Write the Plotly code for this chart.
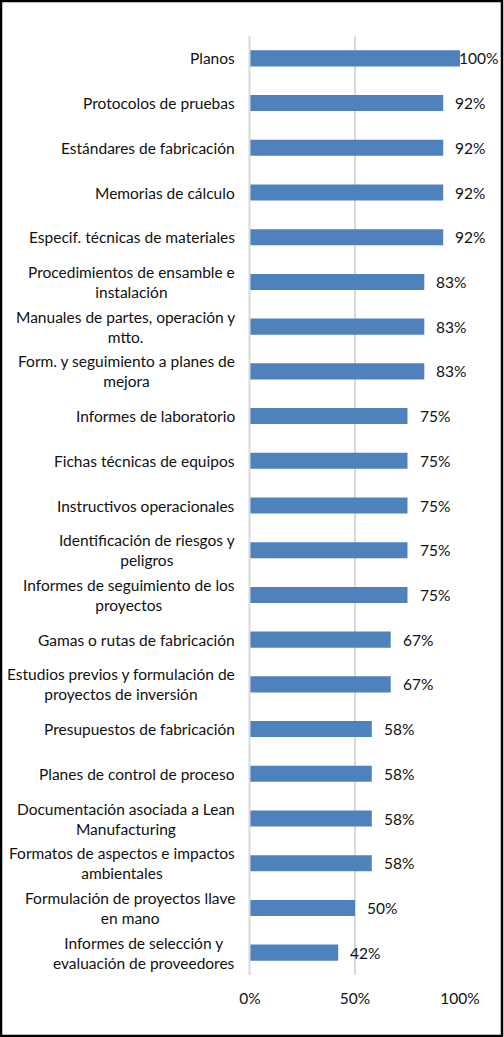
import plotly.graph_objects as go

categories = [
    "Planos",
    "Protocolos de pruebas",
    "Estándares de fabricación",
    "Memorias de cálculo",
    "Especif. técnicas de materiales",
    "Procedimientos de ensamble e<br>instalación",
    "Manuales de partes, operación y<br>mtto.",
    "Form. y seguimiento a planes de<br>mejora",
    "Informes de laboratorio",
    "Fichas técnicas de equipos",
    "Instructivos operacionales",
    "Identificación de riesgos y<br>peligros",
    "Informes de seguimiento de los<br>proyectos",
    "Gamas o rutas de fabricación",
    "Estudios previos y formulación de<br>proyectos de inversión",
    "Presupuestos de fabricación",
    "Planes de control de proceso",
    "Documentación asociada a Lean<br>Manufacturing",
    "Formatos de aspectos e impactos<br>ambientales",
    "Formulación de proyectos llave<br>en mano",
    "Informes de selección y<br>evaluación de proveedores",
]
values = [1.00, 0.92, 0.92, 0.92, 0.92, 0.83, 0.83, 0.83, 0.75, 0.75, 0.75,
          0.75, 0.75, 0.67, 0.67, 0.58, 0.58, 0.58, 0.58, 0.50, 0.42]
value_labels = ["100%", "92%", "92%", "92%", "92%", "83%", "83%", "83%", "75%",
                "75%", "75%", "75%", "75%", "67%", "67%", "58%", "58%", "58%",
                "58%", "50%", "42%"]
x_ticks = [0, 0.5, 1.0]
x_tick_labels = ["0%", "50%", "100%"]

W, H = 504, 1037
L, R, T, B = 250, 44, 36, 62
pw, ph = W - L - R, H - T - B

FONT = dict(family="Lato, 'Open Sans', sans-serif", size=15.5, color="#111111")

fig = go.Figure()
fig.add_trace(go.Bar(
    y=list(range(len(categories))), x=values, orientation="h",
    marker=dict(color="#4f81bd", line=dict(width=0)),
    hoverinfo="skip", cliponaxis=False,
))

annotations = []
for i, (c, v, lab) in enumerate(zip(categories, values, value_labels)):
    annotations.append(dict(
        x=0, xref="paper", y=i, yref="y", text=c, showarrow=False,
        xanchor="right", yanchor="middle", align="center", xshift=-13,
        font=FONT,
    ))
    annotations.append(dict(
        x=v, xref="x", y=i, yref="y", text=lab, showarrow=False,
        xanchor="left", yanchor="middle", xshift=(10 if v < 1 else -3),
        font=FONT,
    ))

def px_x(p):
    return (p - L) / pw

def px_y(p):
    return (H - B - p) / ph

fig.update_layout(
    width=W, height=H,
    margin=dict(l=L, r=R, t=T, b=B),
    paper_bgcolor="white", plot_bgcolor="white",
    showlegend=False,
    bargap=0.64,
    font=FONT,
    xaxis=dict(
        range=[0, 1.0], tickvals=x_ticks, ticktext=x_tick_labels,
        showgrid=True, gridcolor="#d9d9d9", gridwidth=2,
        zeroline=False, showline=False, ticks="", ticklabelstandoff=12,
        tickfont=FONT, fixedrange=True,
    ),
    yaxis=dict(
        range=[len(categories) - 0.5, -0.5], showticklabels=False,
        showgrid=False, zeroline=False, showline=False, ticks="",
        fixedrange=True,
    ),
    annotations=annotations,
    shapes=[
        dict(type="line", xref="paper", yref="paper",
             x0=px_x(249.5), x1=px_x(249.5), y0=0, y1=1,
             line=dict(color="#d9d9d9", width=2), layer="above"),
        dict(type="rect", xref="paper", yref="paper",
             x0=px_x(1), x1=px_x(502), y0=px_y(1), y1=px_y(1036),
             line=dict(color="#000000", width=2.5)),
    ],
)

fig.write_html(
    "out.html",
    config={"displayModeBar": False, "staticPlot": True},
    post_script="document.body.style.margin='0';document.body.style.padding='0';"
                "document.body.style.overflow='hidden';"
                "document.documentElement.style.overflow='hidden';",
)
